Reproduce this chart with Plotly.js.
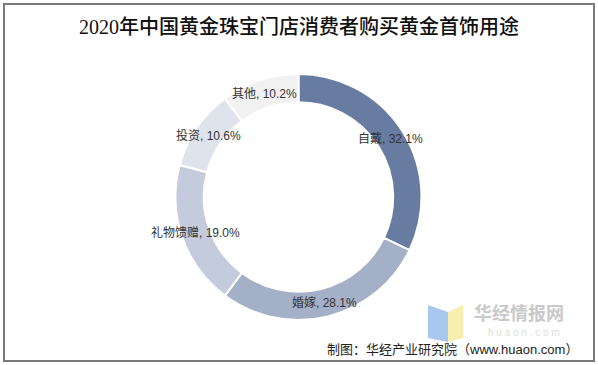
<!DOCTYPE html>
<html>
<head>
<meta charset="utf-8">
<script src="https://cdn.plot.ly/plotly-3.0.1.min.js"></script>
<style>
html,body{margin:0;padding:0;background:#fff;}
#chart{width:598px;height:365px;}
</style>
</head>
<body>
<div id="chart"></div>
<script>
const categories = ["自戴", "婚嫁", "礼物馈赠", "投资", "其他"];
const shares = [32.1, 28.1, 19.0, 10.6, 10.2];
const sliceColors = ["#687ba1", "#a4b0c8", "#c4cbdc", "#dfe3ec", "#f1f1f1"];
const titleText = "2020年中国黄金珠宝门店消费者购买黄金首饰用途";
const sourceText = "制图：华经产业研究院（www.huaon.com）";

const W = 598, H = 365;
const cx = 298.5, cy = 197, R = 123, hole = 0.77;
const labelR = R * (1 + hole) / 2;

const total = shares.reduce((a, b) => a + b, 0);
let cum = 0;
const labelAnnotations = categories.map((c, i) => {
  const mid = (cum + shares[i] / 2) / total * 2 * Math.PI;
  cum += shares[i];
  const px = cx + labelR * Math.sin(mid);
  const py = cy - labelR * Math.cos(mid);
  return {
    xref: "paper", yref: "paper",
    x: px / W, y: (H - py) / H,
    xanchor: "center", yanchor: "middle",
    text: c + ", " + shares[i].toFixed(1) + "%",
    showarrow: false,
    font: {family: "Liberation Sans, Arial, 'Noto Sans CJK SC', sans-serif", size: 12, color: "#333333"}
  };
});

const trace = {
  type: "pie",
  labels: categories,
  values: shares,
  hole: hole,
  sort: false,
  direction: "clockwise",
  rotation: 0,
  marker: {colors: sliceColors, line: {color: "#ffffff", width: 2}},
  textinfo: "none",
  hoverinfo: "label+percent",
  showlegend: false,
  domain: {x: [(cx - R) / W, (cx + R) / W], y: [(H - cy - R) / H, (H - cy + R) / H]}
};

const annotations = labelAnnotations.concat([
  {xref: "paper", yref: "paper", x: 0.5, y: (H - 27) / H, xanchor: "center", yanchor: "middle",
   text: titleText, showarrow: false,
   font: {family: "'Liberation Serif', 'Noto Sans CJK SC', serif", size: 20, color: "#111111", weight: 500}},
  {xref: "paper", yref: "paper", x: 472 / W, y: (H - 312) / H, xanchor: "left", yanchor: "middle",
   text: "<b>华经情报网</b>", showarrow: false,
   font: {family: "'Noto Sans CJK SC', sans-serif", size: 18, color: "#c9c9c9"}},
  {xref: "paper", yref: "paper", x: 524 / W, y: (H - 332) / H, xanchor: "center", yanchor: "middle",
   text: "h u a o n . c o m", showarrow: false,
   font: {family: "'Liberation Sans', sans-serif", size: 10, color: "#dddddd"}},
  {xref: "paper", yref: "paper", x: 580 / W, y: (H - 349) / H, xanchor: "right", yanchor: "middle",
   text: sourceText, showarrow: false,
   font: {family: "'Liberation Sans', 'Noto Sans CJK SC', sans-serif", size: 13, color: "#222222"}}
]);

function px2path(pts) {
  return "M " + pts.map(p => (p[0] / W) + "," + ((H - p[1]) / H)).join(" L ") + " Z";
}

const shapes = [
  {type: "rect", xref: "paper", yref: "paper", x0: 4 / W, x1: 594 / W, y0: (H - 361) / H, y1: (H - 4) / H,
   line: {color: "#7a7a7a", width: 2}, fillcolor: "rgba(0,0,0,0)", layer: "above"},
  {type: "path", xref: "paper", yref: "paper", layer: "below",
   path: px2path([[428, 305], [448, 312], [448, 342], [428, 338]]),
   fillcolor: "#a8c8f0", line: {width: 0}},
  {type: "path", xref: "paper", yref: "paper", layer: "below",
   path: px2path([[448, 312], [463, 305], [463, 338], [448, 342]]),
   fillcolor: "#f8eeb0", line: {width: 0}}
];

const layout = {
  width: W, height: H,
  margin: {l: 0, r: 0, t: 0, b: 0},
  paper_bgcolor: "#ffffff",
  plot_bgcolor: "#ffffff",
  showlegend: false,
  annotations: annotations,
  shapes: shapes
};

Plotly.newPlot("chart", [trace], layout, {displayModeBar: false, staticPlot: true});
</script>
</body>
</html>
